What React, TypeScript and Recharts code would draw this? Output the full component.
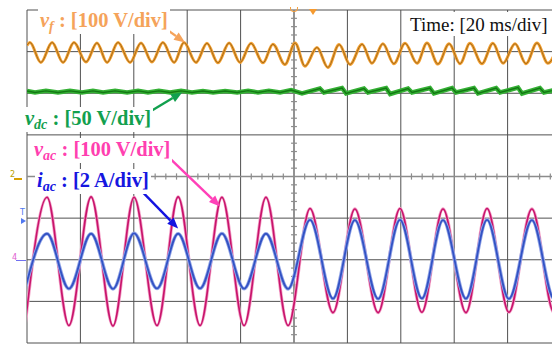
import React from 'react';
import { LineChart, Line, XAxis, YAxis, CartesianGrid, ReferenceLine } from 'recharts';

// ---- axes (oscilloscope: 20 ms/div, 8 vertical divisions) ----
const timeTicks = [0, 20, 40, 60, 80, 100, 120, 140, 160, 180, 200];
const divTicks = [-4, -3, -2, -1, 0, 1, 2, 3, 4];

// ---- v_f (100 V/div), ripple around its offset ----
const vfTime = [0, 1.1, 5.2, 9.4, 13.5, 17.6, 22.1, 26.2, 30.0, 34.1, 38.6, 42.7, 46.8, 50.9, 55.1, 58.8, 63.3, 67.4, 71.5, 75.7, 79.8, 83.9, 88.4, 92.1, 96.6, 100.4, 104.1, 108.6, 112.7, 116.9, 121.0, 125.5, 129.2, 133.3, 137.4, 141.6, 146.1, 149.8, 153.9, 158.1, 162.2, 165.9, 170.4, 174.5, 178.3, 182.8, 186.9, 191.0, 195.1, 199.2];
const vfVolt = [15, 22, -26, 22, -26, 22, -25, 21, -26, 22, -26, 21, -25, 22, -26, 22, -26, 20, -27, 21, -26, 20, -27, 18, -31, 21, -35, 10, -38, 17, -31, 18, -28, 19, -29, 20, -28, 21, -30, 19, -29, 20, -29, 20, -28, 19, -29, 21, -28, 21];

// ---- v_dc (50 V/div) ----
const vdcTime = [0, 3.0, 7.1, 11.6, 16.1, 20.6, 24.7, 28.5, 33.0, 37.5, 41.6, 45.3, 49.4, 53.6, 57.7, 61.8, 65.9, 69.7, 74.2, 78.7, 82.8, 86.5, 90.6, 94.8, 98.9, 103.0, 109.7, 111.2, 118.0, 119.5, 126.2, 127.7, 134.5, 136.0, 142.7, 144.2, 150.9, 152.4, 159.2, 160.7, 167.4, 168.9, 175.7, 177.2, 183.9, 185.4, 192.1, 193.6, 200];
const vdcVolt = [202.7, 200.9, 202.9, 200.9, 202.9, 200.9, 202.9, 200.9, 202.9, 200.9, 202.9, 200.9, 202.9, 200.9, 202.9, 200.9, 202.7, 200.9, 202.7, 200.9, 203.1, 200.9, 203.1, 200.9, 203.9, 199.7, 205.7, 200.9, 206.3, 199.7, 205.7, 200.9, 206.3, 199.1, 205.7, 200.9, 206.3, 199.7, 206.3, 200.9, 206.3, 199.7, 206.3, 200.9, 206.9, 199.7, 206.3, 200.9, 205.7];

// ---- v_ac (100 V/div) and i_ac (2 A/div): extremes ----
const acTime = [-0.7, 7.5, 15.7, 24.0, 32.2, 40.1, 48.7, 56.6, 64.8, 73.0, 81.3, 89.5, 97.8, 106.0, 114.6, 122.8, 131.5, 139.7, 147.9, 155.8, 164.4, 172.3, 180.5, 189.1, 197.4, 205.6];
const vacVolt = [-158, 150, -158, 151, -159, 150, -158, 151, -158, 150, -158, 150, -158, 123, -127, 122, -127, 123, -126, 122, -127, 123, -126, 122, -127, 123];
const iacAmp = [-1.39, 1.25, -1.39, 1.25, -1.4, 1.27, -1.38, 1.25, -1.38, 1.26, -1.39, 1.25, -1.4, 1.92, -1.87, 1.9, -1.88, 1.92, -1.86, 1.9, -1.87, 1.92, -1.88, 1.9, -1.87, 1.92];

// ---- annotation arrows (time ms, screen div) ----
const arrows = [
  { color: '#f5a35a', from: [51.7, 3.56], to: [59.2, 3.22] },
  { color: '#12a04e', from: [46.8, 1.585], to: [58.1, 2.02] },
  { color: '#ff40b8', from: [53.6, 0.43], to: [72.3, -0.72] },
  { color: '#1414e0', from: [43.4, -0.38], to: [56.6, -1.25] },
];

const minorT = timeTicks.slice(0, 10).flatMap((t) => [t + 4, t + 8, t + 12, t + 16]);
const minorD = divTicks.slice(0, 8).flatMap((d) => [d + 0.2, d + 0.4, d + 0.6, d + 0.8]);

const vfData = vfTime.map((t, i) => ({ t, v: vfVolt[i] }));
const vdcData = vdcTime.map((t, i) => ({ t, v: vdcVolt[i] }));
const vacData = acTime.map((t, i) => ({ t, v: vacVolt[i] }));
const iacData = acTime.map((t, i) => ({ t, v: iacAmp[i] }));

const arrowShape = (color: string) => (props: any) => {
  const { x1, y1, x2, y2 } = props;
  const ang = Math.atan2(y2 - y1, x2 - x1);
  const L = 11, W = 4.5;
  const bx = x2 - L * Math.cos(ang), by = y2 - L * Math.sin(ang);
  const p1 = `${bx + W * Math.sin(ang)},${by - W * Math.cos(ang)}`;
  const p2 = `${bx - W * Math.sin(ang)},${by + W * Math.cos(ang)}`;
  return (
    <g>
      <line x1={x1} y1={y1} x2={bx} y2={by} stroke={color} strokeWidth={2.4} />
      <polygon points={`${x2},${y2} ${p1} ${p2}`} fill={color} />
    </g>
  );
};

const serif = '"Liberation Serif", "Times New Roman", serif';

const Lbl = ({ left, top, color, sym, sub, rest }: any) => (
  <div style={{ position: 'absolute', left, top, color, fontFamily: serif, fontWeight: 'bold', fontSize: 20.5, lineHeight: '20px', background: '#fff', padding: '1px 2px', whiteSpace: 'nowrap' }}>
    <span style={{ fontStyle: 'italic' }}>{sym}</span>
    <span style={{ fontStyle: 'italic', fontSize: 14, position: 'relative', top: 4 }}>{sub}</span>
    <span>{rest}</span>
  </div>
);

export default function App() {
  return (
    <div style={{ position: 'absolute', left: 0, top: 0, width: 552, height: 344, overflow: 'hidden', background: '#fff' }}>
      <LineChart width={571} height={353} margin={{ top: 10, right: 10, bottom: 10, left: 27 }}>
        <XAxis dataKey="t" type="number" domain={[0, 200]} ticks={timeTicks} hide allowDataOverflow />
        <YAxis yAxisId={0} type="number" domain={[-4, 4]} ticks={divTicks} hide allowDataOverflow />
        <YAxis yAxisId="vf" type="number" domain={[-700, 100]} hide allowDataOverflow />
        <YAxis yAxisId="vdc" type="number" domain={[-100, 300]} hide allowDataOverflow />
        <YAxis yAxisId="vac" type="number" domain={[-200, 600]} hide allowDataOverflow />
        <YAxis yAxisId="iac" type="number" domain={[-4, 12]} hide allowDataOverflow />
        <CartesianGrid stroke="#505050" strokeWidth={1} />
        <ReferenceLine x={100} stroke="#8c8c8c" strokeWidth={1.5} />
        <ReferenceLine y={0} stroke="#8c8c8c" strokeWidth={1.5} />
        {minorT.map((t) => (
          <ReferenceLine key={'mt' + t} segment={[{ x: t, y: -0.075 }, { x: t, y: 0.075 }]} stroke="#8c8c8c" strokeWidth={1.2} />
        ))}
        {minorD.map((d) => (
          <ReferenceLine key={'md' + d} segment={[{ x: 98.9, y: d }, { x: 101.1, y: d }]} stroke="#8c8c8c" strokeWidth={1.2} />
        ))}
        <Line data={vfData} dataKey="v" yAxisId="vf" type="monotone" stroke="#f4a030" strokeWidth={3} dot={false} isAnimationActive={false} />
        <Line data={vfData} dataKey="v" yAxisId="vf" type="monotone" stroke="#5c3c08" strokeWidth={0.7} strokeOpacity={0.75} dot={false} isAnimationActive={false} />
        <Line data={vdcData} dataKey="v" yAxisId="vdc" type="linear" stroke="#34b034" strokeWidth={4.5} dot={false} isAnimationActive={false} />
        <Line data={vdcData} dataKey="v" yAxisId="vdc" type="linear" stroke="#137813" strokeWidth={1.4} dot={false} isAnimationActive={false} />
        <Line data={vacData} dataKey="v" yAxisId="vac" type="monotone" stroke="#f3a2c8" strokeWidth={3.2} dot={false} isAnimationActive={false} />
        <Line data={vacData} dataKey="v" yAxisId="vac" type="monotone" stroke="#c8146c" strokeWidth={1.6} dot={false} isAnimationActive={false} />
        <Line data={iacData} dataKey="v" yAxisId="iac" type="monotone" stroke="#95a8e8" strokeWidth={3.6} dot={false} isAnimationActive={false} />
        <Line data={iacData} dataKey="v" yAxisId="iac" type="monotone" stroke="#3352c4" strokeWidth={1.8} dot={false} isAnimationActive={false} />
        {arrows.map((a, i) => (
          <ReferenceLine key={'ar' + i} segment={[{ x: a.from[0], y: a.from[1] }, { x: a.to[0], y: a.to[1] }]} shape={arrowShape(a.color)} />
        ))}
      </LineChart>
      <Lbl left={38} top={9} color="#f5a35a" sym="v" sub="f" rest=" : [100 V/div]" />
      <Lbl left={23} top={107} color="#12a04e" sym="v" sub="dc" rest=" : [50 V/div]" />
      <Lbl left={32} top={138} color="#ff3fb0" sym="v" sub="ac" rest=" : [100 V/div]" />
      <Lbl left={35} top={169} color="#1616e0" sym="i" sub="ac" rest=" : [2 A/div]" />
      <div style={{ position: 'absolute', left: 405, top: 12, width: 160, height: 24, background: '#fff' }} />
      <div style={{ position: 'absolute', left: 410, top: 15, fontFamily: serif, fontSize: 19, lineHeight: '19px', color: '#111', whiteSpace: 'nowrap' }}>Time: [20 ms/div]</div>
      <div style={{ position: 'absolute', left: 10, top: 170, fontFamily: 'DejaVu Sans', fontSize: 8, color: '#b8a000' }}>2</div>
      <div style={{ position: 'absolute', left: 14, top: 178, width: 8, height: 0, borderTop: '2px solid #d8a000' }} />
      <div style={{ position: 'absolute', left: 20, top: 208, fontFamily: 'DejaVu Sans', fontSize: 8, color: '#5078f0' }}>T</div>
      <div style={{ position: 'absolute', left: 21, top: 218, width: 0, height: 0, borderTop: '3px solid transparent', borderBottom: '3px solid transparent', borderLeft: '5px solid #5078f0' }} />
      <div style={{ position: 'absolute', left: 12, top: 253, fontFamily: 'DejaVu Sans', fontSize: 8, color: '#e060d0' }}>4</div>
      <div style={{ position: 'absolute', left: 16, top: 260, width: 10, height: 0, borderTop: '1.5px solid #7070f0' }} />
      <div style={{ position: 'absolute', left: 309, top: 9, width: 0, height: 0, borderLeft: '4px solid transparent', borderRight: '4px solid transparent', borderTop: '6px solid #f59a30' }} />
      <div style={{ position: 'absolute', left: 290, top: 7, width: 6, height: 4, border: '1.5px solid #f5a040', borderTop: 'none', borderRadius: '0 0 4px 4px' }} />
    </div>
  );
}
